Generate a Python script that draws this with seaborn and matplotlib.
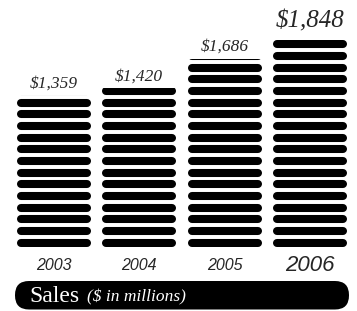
import numpy as np
import pandas as pd
import matplotlib
matplotlib.use("Agg")
import matplotlib.pyplot as plt
import seaborn as sns
from matplotlib.patches import FancyBboxPatch
from matplotlib.transforms import IdentityTransform

################################
# data:
################################

years = ["2003", "2004", "2005", "2006"]
sales = [1359, 1420, 1686, 1848]
value_labels = ["$1,359", "$1,420", "$1,686", "$1,848"]

df = pd.DataFrame({"year": years, "sales": sales})

################################
# style:
################################

H = 311.0
base_px = 246.5               # pixel row of the bar baseline
px_per_unit = 0.1115          # vertical scale, pixels per $ million
stripe_pitch = 11.65 / px_per_unit
stripe_half = 4.0 / px_per_unit
stripe_lw = 5.8               # points (~8 px)
cap_inset = 0.047             # x data units, half the stripe height

sns.set_theme(style="white")
plt.rcParams["font.family"] = ["Liberation Serif", "DejaVu Sans"]

fig = plt.figure(figsize=(3.57, 3.11), dpi=100)
ax = fig.add_axes([0.0318, (H - base_px) / H, 0.956, base_px / H])

sns.barplot(data=df, x="year", y="sales", color="black", width=0.87,
            saturation=1, ax=ax)

ax.set_xlim(-0.5, 3.5)
ax.set_ylim(0, base_px / px_per_unit)
ax.set_axis_off()

# turn each bar into rounded horizontal stripes, clipped to the bar height
visible_tops = []
for p in ax.patches:
    x0 = p.get_x()
    x1 = x0 + p.get_width()
    top = p.get_height()
    p.set_facecolor("none")
    p.set_edgecolor("none")
    yc = stripe_half
    last = yc
    while yc - stripe_half < top:
        ln, = ax.plot([x0 + cap_inset, x1 - cap_inset], [yc, yc], color="black",
                      lw=stripe_lw, solid_capstyle="round")
        ln.set_clip_path(p)
        last = yc
        yc += stripe_pitch
    visible_tops.append(min(top, last + stripe_half))

# value labels above the visible stripes
for i, (vt, lab) in enumerate(zip(visible_tops, value_labels)):
    big = i == len(value_labels) - 1
    ax.annotate(lab, (i, vt), xytext=(0, 9.5 if big else 5.5),
                textcoords="offset points", ha="center", va="baseline",
                fontsize=18 if big else 12.5, fontstyle="italic",
                family="Liberation Serif", annotation_clip=False)

# year labels under bars
for i, y in enumerate(years):
    big = i == len(years) - 1
    ax.annotate(y, (i, 0), xytext=(0, -14), textcoords="offset points",
                ha="center", va="center", fontsize=16 if big else 11.5,
                fontstyle="italic", family="Liberation Sans",
                annotation_clip=False)

# black banner at the bottom
banner = FancyBboxPatch((15, 1.5), 334, 28.5,
                        boxstyle="round,pad=0,rounding_size=14",
                        transform=IdentityTransform(), facecolor="black",
                        edgecolor="none")
fig.patches.append(banner)
fig.text(29 / 357, 15 / H, "Sales", color="white", fontsize=17,
         family="Liberation Serif", ha="left", va="center")
fig.text(87 / 357, 13.5 / H, "($ in millions)", color="white", fontsize=12.5,
         family="Liberation Serif", fontstyle="italic", ha="left", va="center")

fig.savefig("out.png", dpi=100, facecolor="white")
